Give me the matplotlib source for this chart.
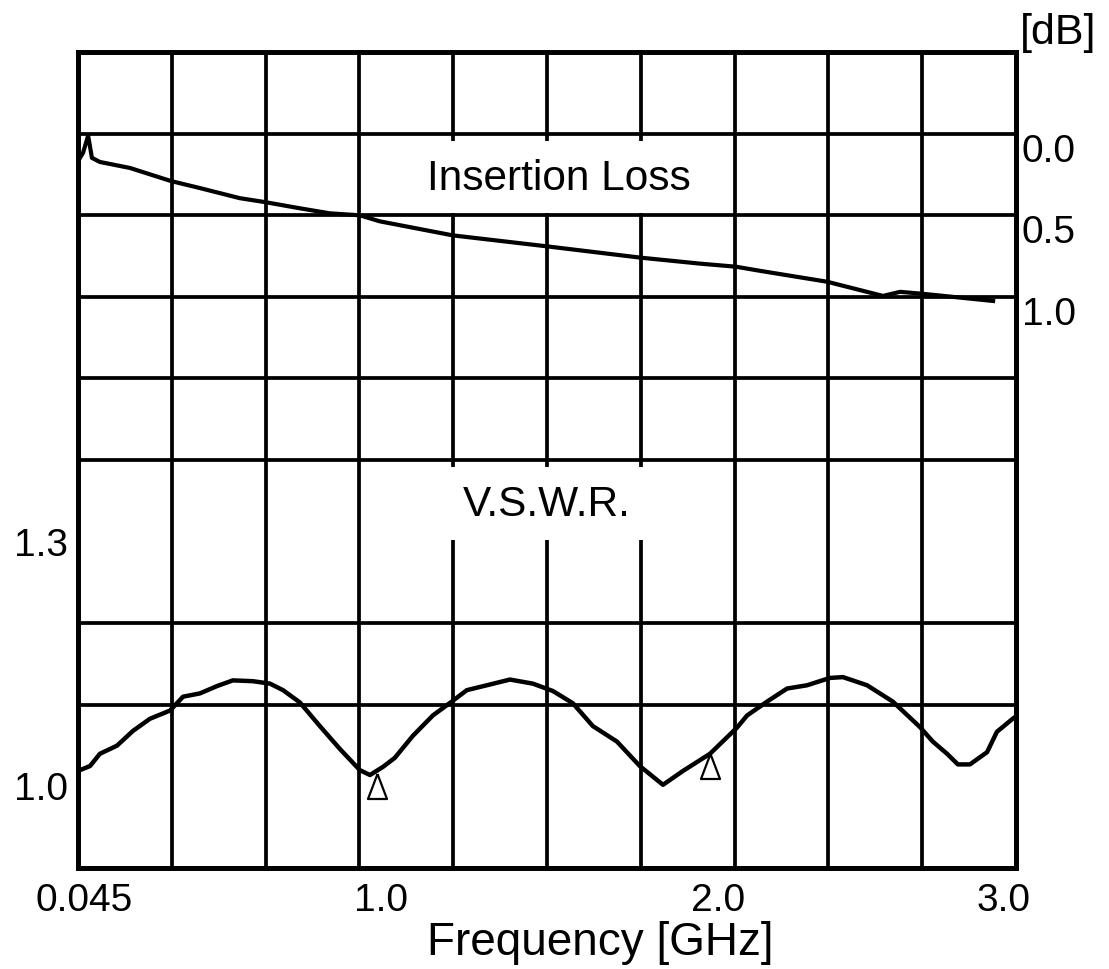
import matplotlib
matplotlib.use('Agg')
import matplotlib.pyplot as plt
import numpy as np
from matplotlib.patches import Rectangle

plt.rcParams['font.family'] = ['Liberation Sans', 'DejaVu Sans']

# V.S.W.R. trace (left scale)
vswr_freq = [0.045, 0.083, 0.114, 0.168, 0.218, 0.272, 0.335, 0.376, 0.429, 0.483,
             0.533, 0.596, 0.650, 0.691, 0.744, 0.807, 0.870, 0.933, 0.965, 1.006,
             1.043, 1.100, 1.163, 1.226, 1.270, 1.333, 1.406, 1.478, 1.541, 1.604,
             1.667, 1.743, 1.815, 1.888, 1.951, 2.036, 2.121, 2.153, 2.216, 2.279,
             2.342, 2.414, 2.455, 2.531, 2.612, 2.697, 2.738, 2.783, 2.817, 2.855,
             2.909, 2.940, 2.990, 3.0]
vswr = [1.019, 1.025, 1.040, 1.050, 1.068, 1.083, 1.093, 1.110, 1.114, 1.123,
        1.130, 1.129, 1.126, 1.118, 1.103, 1.074, 1.046, 1.020, 1.014, 1.024,
        1.035, 1.062, 1.087, 1.105, 1.118, 1.124, 1.131, 1.126, 1.117, 1.102,
        1.074, 1.055, 1.025, 1.002, 1.019, 1.040, 1.072, 1.087, 1.104, 1.120,
        1.124, 1.133, 1.134, 1.124, 1.104, 1.073, 1.055, 1.040, 1.027, 1.027,
        1.042, 1.067, 1.083, 1.086]

# Insertion loss trace (right scale, dB)
il_freq = [0.045, 0.0455, 0.061, 0.077, 0.089, 0.114, 0.209, 0.338, 0.429, 0.555,
           0.637, 0.744, 0.839, 0.933, 0.996, 1.226, 1.526, 1.815, 2.004, 2.118,
           2.193, 2.405, 2.581, 2.635, 2.707, 2.928]
il_db = [1.98, 0.167, 0.117, 0.012, 0.148, 0.173, 0.210, 0.290, 0.333, 0.395,
         0.420, 0.457, 0.488, 0.500, 0.537, 0.623, 0.691, 0.759, 0.796, 0.815,
         0.840, 0.907, 0.994, 0.969, 0.981, 1.025]

# marker positions (delta markers)
mark_freq = [0.987, 2.036]
mark_vswr = [1.001, 1.025]

xtick_pos = [0.064, 1.0, 2.06, 2.96]
xtick_lab = ['0.045', '1.0', '2.0', '3.0']
vswr_ticks = [1.0, 1.3]
il_ticks = [0.0, 0.5, 1.0]

fig = plt.figure(figsize=(11.09, 9.69), dpi=100)
ax = fig.add_axes([0.0703, 0.1042, 0.8458, 0.842])
ax.set_xlim(0.045, 3.0)
ax.set_ylim(0.9, 1.9)

# 10 x 10 division grid
ax.set_xticks(np.linspace(0.045, 3.0, 11), minor=True)
ax.set_yticks(np.linspace(0.9, 1.9, 11), minor=True)
ax.grid(which='minor', color='black', lw=2.7)
ax.grid(which='major', visible=False)
ax.set_xticks(xtick_pos)
ax.set_xticklabels(xtick_lab)
ax.set_yticks(vswr_ticks)
ax.set_yticklabels(['1.0', '1.3'])
ax.tick_params(which='both', length=0, labelsize=28)
ax.tick_params(axis='x', pad=11)
ax.tick_params(axis='y', pad=7)
ax.set_axisbelow(True)
for s in ax.spines.values():
    s.set_linewidth(3.4)

ax.plot(vswr_freq, vswr, color='black', lw=3.2)
tri = [(0, 1), (-0.76, -1), (0.76, -1), (0, 1)]
ax.plot(mark_freq, mark_vswr, ls='none', marker=tri, ms=18,
        mfc='white', mec='black', mew=1.6, zorder=5)

ax2 = ax.twinx()
ax2.set_ylim(4.5, -0.5)
ax2.set_yticks(il_ticks)
ax2.set_yticklabels(['0.0', '0.5', '1.0'], va='top')
ax2.tick_params(length=0, labelsize=28, pad=4)
for s in ax2.spines.values():
    s.set_linewidth(3.4)

# white label boxes over the grid
for y0, h in [(0.803, 0.088), (0.402, 0.089)]:
    ax2.add_patch(Rectangle((0.306, y0), 0.392, h, transform=ax2.transAxes,
                            facecolor='white', edgecolor='none', zorder=3))
ax2.text(0.513, 0.845, 'Insertion Loss', transform=ax2.transAxes, fontsize=30.5,
         ha='center', va='center', zorder=4)
ax2.text(0.5, 0.445, 'V.S.W.R.', transform=ax2.transAxes, fontsize=30.5,
         ha='center', va='center', zorder=4)

ax2.plot(il_freq, il_db, color='black', lw=3, zorder=5)

fig.text(1058 / 1109, 1 - 33 / 969, '[dB]', fontsize=31, ha='center', va='center')
fig.text(600 / 1109, 1 - 943 / 969, 'Frequency [GHz]', fontsize=33,
         ha='center', va='center')

fig.savefig('out.png', dpi=100)
